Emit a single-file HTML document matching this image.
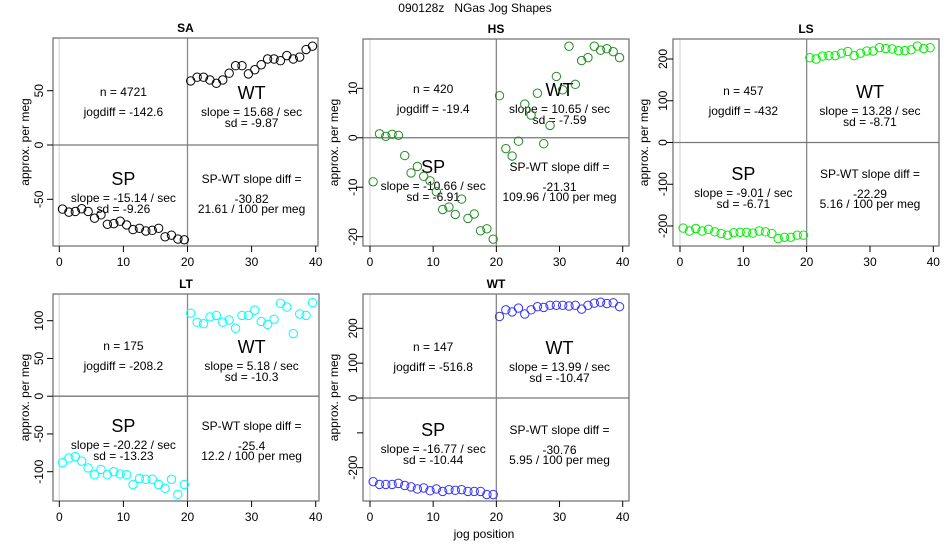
<!DOCTYPE html>
<html><head><meta charset="utf-8">
<style>
html,body{margin:0;padding:0;background:#fff;}
svg{display:block;font-family:"Liberation Sans",sans-serif;}
</style></head>
<body>
<svg id="chart" width="950" height="550" viewBox="0 0 950 550">
<text x="475" y="12" text-anchor="middle" font-size="12" fill="#000" style="white-space:pre" xml:space="preserve">090128z   NGas Jog Shapes</text>
<text x="484" y="538" text-anchor="middle" font-size="12" fill="#000">jog position</text>
</svg>
<script>
// ---- data ----
const panelNames = ["SA","HS","LS","LT","WT"];
const jogPositions = [0.5,1.5,2.5,3.5,4.5,5.5,6.5,7.5,8.5,9.5,10.5,11.5,12.5,13.5,14.5,15.5,16.5,17.5,18.5,19.5,20.5,21.5,22.5,23.5,24.5,25.5,26.5,27.5,28.5,29.5,30.5,31.5,32.5,33.5,34.5,35.5,36.5,37.5,38.5,39.5];
const xTicks = [0,10,20,30,40];
const saValues = [-59,-61.8,-61.2,-58.7,-61.2,-67.4,-64.3,-73,-72.4,-70.2,-73.6,-77.9,-76.7,-79.2,-78.6,-76.7,-84.5,-83,-86.6,-87.3,
  59,62.4,62.4,59.9,56.8,59.9,66.1,73,73,65.5,69.3,73.9,79.2,79.2,77.6,82.3,79.2,81,87.9,91];
const hsValues = [-8.9,0.8,0.3,0.7,0.5,-3.6,-7.1,-5.8,-7.8,-8.7,-10.9,-14.5,-14.0,-15.5,-12.4,-16.3,-15.4,-18.8,-18.4,-20.5,
  8.5,-2.2,-3.7,-0.7,6.8,4.6,9.0,-1.2,2.5,12.4,9.7,18.5,10.8,15.6,16.2,18.5,17.7,18.0,17.4,16.2];
const lsValues = [-205,-212,-206,-212,-208,-214,-218,-222,-216,-215,-215,-217,-212,-214,-218,-230,-227,-227,-222,-222,
  203,200,207,208,208,214,218,208,214,219,219,227,225,224,220,220,222,231,225,227];
const ltValues = [-88,-82,-80,-86,-95,-104,-97,-104,-100,-103,-104,-117,-109,-110,-110,-117,-122,-110,-130,-117,
  110,98,96,105,107,98,101,90,107,107,114,99,95,102,123,118,83,109,107,124];
const wtValues = [-240,-248,-248,-248,-245,-251,-255,-261,-258,-266,-261,-268,-263,-265,-263,-268,-268,-268,-277,-277,
  234,253,247,258,241,253,262,260,266,266,266,264,266,255,266,272,275,271,273,262];
const saYTicks = [-50,0,50];
const hsYTicks = [-20,-10,0,10];
const lsYTicks = [-200,-100,0,100,200];
const ltYTicks = [-100,-50,0,50,100];
const wtYTicks = [-200,-100,0,100,200];
const wtYTickLabels = ["-200","","0","100","200"];
const nCounts = ["4721","420","457","175","147"];
const jogDiffs = ["-142.6","-19.4","-432","-208.2","-516.8"];
const wtSlopes = ["15.68","10.65","13.28","5.18","13.99"];
const wtSds = ["-9.87","-7.59","-8.71","-10.3","-10.47"];
const spSlopes = ["-15.14","-10.66","-9.01","-20.22","-16.77"];
const spSds = ["-9.26","-6.91","-6.71","-13.23","-10.44"];
const slopeDiffs = ["-30.82","-21.31","-22.29","-25.4","-30.76"];
const perMegs = ["21.61","109.96","5.16","12.2","5.95"];

// ---- layout (pixel geometry, not data) ----
const layout = [
  {box:[53,318,38,246], x0:59.3, x40:315.7, ya:[50,90.7], yb:[-50,199.3], col:"#000000", ylabX:25, ytX:39, nY:54, spY:141},
  {box:[363,629,39,246], x0:370, x40:622.7, ya:[10,88.3], yb:[-20,236.7], col:"#228B22", ylabX:334, ytX:353, nY:50, spY:128},
  {box:[673,939,39,246], x0:680, x40:933.3, ya:[200,59], yb:[-200,226], col:"#00EE00", ylabX:644, ytX:663, nY:52, spY:135},
  {box:[53,319,294,501], x0:59.3, x40:315.7, ya:[100,320.7], yb:[-100,471.7], col:"#00FFFF", ylabX:25, ytX:39, nY:52, spY:132},
  {box:[363,629,294,501], x0:370, x40:622.7, ya:[200,328.3], yb:[-200,467.7], col:"#3333FF", ylabX:334, ytX:353, nY:53, spY:136}
];
const allValues = [saValues,hsValues,lsValues,ltValues,wtValues];
const allYTicks = [saYTicks,hsYTicks,lsYTicks,ltYTicks,wtYTicks];

const svg = document.getElementById('chart');
const NS = "http://www.w3.org/2000/svg";
function mk(tag, attrs, parent){
  const e = document.createElementNS(NS, tag);
  for (const k in attrs) e.setAttribute(k, attrs[k]);
  (parent||svg).appendChild(e);
  return e;
}
function txt(str, x, y, size, parent, extra){
  const t = mk('text', Object.assign({x:x, y:y, 'font-size':size, 'text-anchor':'middle', 'dominant-baseline':'central', fill:'#000'}, extra||{}), parent);
  t.textContent = str;
  return t;
}

layout.forEach((L, p) => {
  const g = mk('g', {});
  
  
  const [l, r, t, b] = L.box;
  const xs = v => L.x0 + (L.x40 - L.x0) * v / 40;
  const ys = v => L.ya[1] + (v - L.ya[0]) * (L.yb[1] - L.ya[1]) / (L.yb[0] - L.ya[0]);

  const title = txt(panelNames[p], (l + r) / 2, t - 10, 12, g, {'font-weight':'bold'});
  
  

  const vl0 = mk('line', {x1:xs(0), x2:xs(0), y1:t, y2:b, stroke:'#dddddd', 'stroke-width':1.5}, g);
  
  
  const vl20 = mk('line', {x1:xs(20), x2:xs(20), y1:t, y2:b, stroke:'#888', 'stroke-width':1.3}, g);
  
  
  const hl = mk('line', {x1:l, x2:r, y1:ys(0), y2:ys(0), stroke:'#777', 'stroke-width':1.3}, g);
  
  

  const box = mk('rect', {x:l, y:t, width:r - l, height:b - t, fill:'none', stroke:'#777', 'stroke-width':1.3}, g);
  
  

  xTicks.forEach(v => {
    mk('line', {x1:xs(v), x2:xs(v), y1:b, y2:b + 6, stroke:'#000', 'stroke-width':1}, g);
    const tl = txt(String(v), xs(v), b + 16, 12, g);
    
    
  });
  allYTicks[p].forEach((v, i) => {
    mk('line', {x1:l - 6, x2:l, y1:ys(v), y2:ys(v), stroke:'#000', 'stroke-width':1}, g);
    const lab = (p === 4) ? wtYTickLabels[i] : String(v);
    if (lab) {
      const tl = txt(lab, L.ytX, ys(v), 12, g, {transform:'rotate(-90 ' + L.ytX + ' ' + ys(v) + ')'});
      
      
    }
  });
  const yl = txt('approx. per meg', L.ylabX, (t + b) / 2, 12, g, {transform:'rotate(-90 ' + L.ylabX + ' ' + ((t + b) / 2) + ')'});
  
  

  const cL = xs(10), cR = xs(30);
  const n = t + L.nY, s = t + L.spY;
  const ann = [
    ['n = ' + nCounts[p], cL, n, 12, 'n-count'],
    ['jogdiff = ' + jogDiffs[p], cL, n + 20, 12, 'jogdiff-label'],
    ['WT', cR, n + 1, 18, 'wt-label'],
    ['slope = ' + wtSlopes[p] + ' / sec', cR, n + 20, 12, 'wt-slope'],
    ['sd = ' + wtSds[p], cR, n + 31, 12, 'wt-sd'],
    ['SP', cL, s, 18, 'sp-label'],
    ['slope = ' + spSlopes[p] + ' / sec', cL, s + 19, 12, 'sp-slope'],
    ['sd = ' + spSds[p], cL, s + 30, 12, 'sp-sd'],
    ['SP-WT slope diff =', cR, s, 12, 'slope-diff-label'],
    [slopeDiffs[p], cR, s + 20, 12, 'slope-diff-value'],
    [perMegs[p] + ' / 100 per meg', cR, s + 30, 12, 'per-meg-value']
  ];
  ann.forEach(a => {
    const e = txt(a[0], a[1], a[2], a[3], g);
    
    
  });

  allValues[p].forEach((v, i) => {
    const c = mk('circle', {cx:xs(jogPositions[i]), cy:ys(v), r:4.2, fill:'none', stroke:L.col, 'stroke-width':1}, g);
    
    
  });
});
</script>
</body></html>
